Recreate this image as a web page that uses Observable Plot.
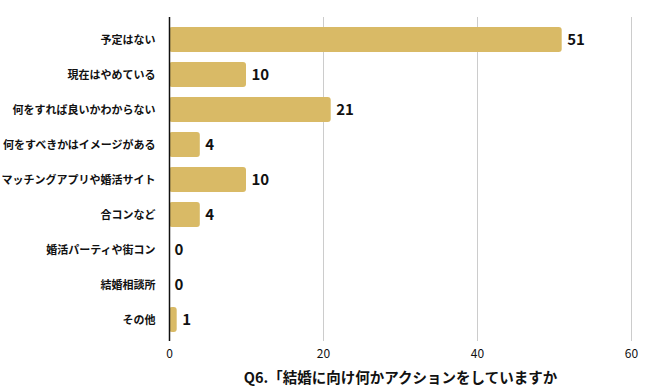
<!DOCTYPE html>
<html><head><meta charset="utf-8">
<script src="https://cdn.jsdelivr.net/npm/d3@7"></script>
<script src="https://cdn.jsdelivr.net/npm/@observablehq/plot@0.6"></script>
<style>
body{margin:0;background:#fff;font-family:"Noto Sans CJK JP",sans-serif;}
</style></head>
<body><div id="chart"></div>
<script>
const categories = ["予定はない","現在はやめている","何をすれば良いかわからない","何をすべきかはイメージがある","マッチングアプリや婚活サイト","合コンなど","婚活パーティや街コン","結婚相談所","その他"];
const values = [51,10,21,4,10,4,0,0,1];
const xTicks = [0,20,40,60];
const title = "Q6.「結婚に向け何かアクションをしていますか";

const data = categories.map((c,i)=>({category:c, value:values[i]}));

const chart = Plot.plot({
  width:650, height:390,
  marginLeft:169, marginRight:19, marginTop:17, marginBottom:49,
  style:{fontFamily:"'Noto Sans CJK JP', sans-serif", background:"#fff", color:"#111"},
  x:{domain:[0,60], ticks:xTicks, tickSize:0, tickPadding:8, grid:false, label:title, labelAnchor:"center", labelOffset:41, labelArrow:"none"},
  y:{domain:categories, paddingInner:0.3, paddingOuter:0.17, label:null, tickSize:0, tickPadding:14},
  marks:[
    Plot.gridX(xTicks.filter(d=>d>0), {stroke:"#ccc", strokeOpacity:1, strokeWidth:1}),
    Plot.barX(data, {x:"value", y:"category", fill:"#d9ba66", rx:3}),
    Plot.ruleX([0], {stroke:"#111", strokeWidth:1.5}),
    Plot.text(data, {x:"value", y:"category", text:d=>String(d.value), textAnchor:"start", dx:5, fontSize:15, fontWeight:"bold", fill:"#111"}),
    Plot.axisY({tickSize:0, tickPadding:14, fontSize:11, fontWeight:"bold", label:null}),
    Plot.axisX({ticks:xTicks, tickSize:0, tickPadding:8, fontSize:12, label:title, labelAnchor:"center", labelOffset:41, labelArrow:"none"})
  ]
});
document.getElementById("chart").appendChild(chart);
chart.querySelectorAll("g[aria-label='x-axis label'] text").forEach(t=>{
  t.textContent = t.textContent.replace(/\s*[→←↑↓]\s*/g,"");
  t.style.fontSize="14.5px";t.style.fontWeight="bold";
});
</script></body></html>
